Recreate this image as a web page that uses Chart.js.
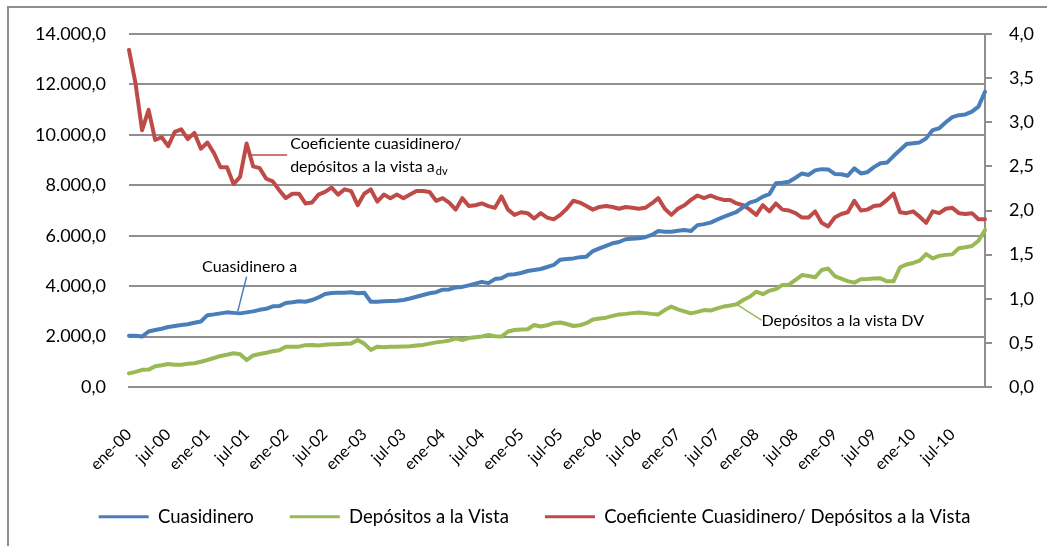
<!DOCTYPE html>
<html>
<head>
<meta charset="utf-8">
<script src="https://cdn.jsdelivr.net/npm/chart.js@4"></script>
<style>
html, body { margin: 0; padding: 0; background: #fff; overflow: hidden; }
#wrap { position: relative; width: 1047px; height: 546px; }
#marco { position: absolute; left: 7px; top: 6px; width: 1100px; height: 600px; border: 2px solid #8f8f8f; box-sizing: border-box; }
canvas { position: absolute; left: 0; top: 0; }
</style>
</head>
<body>
<div id="wrap"><div id="marco"></div><canvas id="grafico" width="1047" height="546"></canvas></div>
<script>
// meses ene-00 ... dic-10
const meses = ['ene', 'feb', 'mar', 'abr', 'may', 'jun', 'jul', 'ago', 'sep', 'oct', 'nov', 'dic'];
const anios = ['00', '01', '02', '03', '04', '05', '06', '07', '08', '09', '10'];
const etiquetas = [];
anios.forEach(a => meses.forEach(m => etiquetas.push(m + '-' + a)));

const cuasidinero = [
    2030, 2030, 2000, 2200, 2260, 2310, 2380, 2420, 2460, 2490, 2550, 2600,
    2850, 2880, 2920, 2960, 2940, 2920, 2960, 3000, 3060, 3100, 3200, 3210,
    3330, 3360, 3400, 3380, 3450, 3550, 3690, 3730, 3740, 3740, 3760, 3720,
    3740, 3380, 3380, 3400, 3410, 3420, 3450, 3510, 3580, 3650, 3720, 3760,
    3860, 3870, 3950, 3970, 4030, 4100, 4170, 4120, 4280, 4310, 4450, 4470,
    4520, 4600, 4640, 4680, 4760, 4840, 5050, 5080, 5100, 5150, 5170, 5390,
    5500, 5600, 5700, 5750, 5860, 5880, 5900, 5940, 6030, 6190, 6160, 6160,
    6200, 6230, 6190, 6420, 6460, 6520, 6640, 6750, 6850, 6950, 7130, 7310,
    7390, 7550, 7650, 8080, 8100, 8140, 8300, 8470, 8410, 8590, 8640, 8630,
    8450, 8440, 8380, 8670, 8470, 8520, 8720, 8870, 8900, 9160, 9400, 9640,
    9670, 9700, 9860, 10190, 10260, 10500, 10700, 10780, 10810, 10920, 11120, 11710
];

const depositos = [
    540, 600, 680, 690, 820, 860, 910, 880, 880, 920, 940, 1000,
    1070, 1150, 1230, 1280, 1340, 1300, 1070, 1250, 1310, 1360, 1420, 1460,
    1600, 1600, 1600, 1660, 1670, 1650, 1680, 1700, 1700, 1720, 1730, 1860,
    1720, 1470, 1600, 1580, 1600, 1600, 1610, 1620, 1650, 1670, 1720, 1770,
    1800, 1840, 1930, 1860, 1940, 1970, 2000, 2060, 2010, 2000, 2200, 2260,
    2280, 2290, 2460, 2400, 2450, 2530, 2560, 2500, 2420, 2450, 2530, 2680,
    2720, 2750, 2820, 2880, 2900, 2930, 2950, 2930, 2900, 2880, 3050, 3190,
    3080, 3000, 2920, 2980, 3050, 3030, 3120, 3190, 3230, 3280, 3450, 3580,
    3780, 3680, 3820, 3880, 4050, 4060, 4250, 4440, 4400, 4350, 4640, 4700,
    4400, 4300, 4200, 4140, 4270, 4280, 4300, 4310, 4190, 4190, 4750, 4860,
    4920, 5010, 5270, 5100, 5200, 5240, 5260, 5500, 5540, 5590, 5800, 6230
];

const coeficiente = [
    3.82, 3.44, 2.91, 3.14, 2.80, 2.83, 2.73, 2.89, 2.92, 2.81, 2.88, 2.70,
    2.77, 2.65, 2.49, 2.49, 2.30, 2.38, 2.76, 2.50, 2.48, 2.36, 2.33, 2.23,
    2.14, 2.19, 2.19, 2.08, 2.09, 2.18, 2.21, 2.26, 2.18, 2.24, 2.22, 2.06,
    2.19, 2.24, 2.10, 2.18, 2.14, 2.18, 2.14, 2.18, 2.22, 2.22, 2.21, 2.11,
    2.14, 2.09, 2.01, 2.14, 2.05, 2.06, 2.08, 2.05, 2.03, 2.16, 2.01, 1.95,
    1.98, 1.97, 1.91, 1.97, 1.92, 1.90, 1.95, 2.02, 2.11, 2.09, 2.05, 2.01,
    2.04, 2.05, 2.04, 2.02, 2.04, 2.03, 2.02, 2.03, 2.08, 2.14, 2.02, 1.95,
    2.02, 2.06, 2.12, 2.17, 2.14, 2.17, 2.14, 2.12, 2.12, 2.08, 2.06, 2.01,
    1.95, 2.06, 1.99, 2.08, 2.01, 2.00, 1.97, 1.92, 1.92, 1.99, 1.86, 1.82,
    1.92, 1.96, 1.98, 2.11, 2.00, 2.01, 2.05, 2.06, 2.12, 2.19, 1.98, 1.97,
    1.99, 1.93, 1.86, 1.99, 1.97, 2.02, 2.03, 1.97, 1.96, 1.97, 1.90, 1.90
];

const marcasIzq = [0, 2000, 4000, 6000, 8000, 10000, 12000, 14000];
const marcasDer = [0, 0.5, 1, 1.5, 2, 2.5, 3, 3.5, 4];

const azul = '#4a7ebb';
const verde = '#98b954';
const rojo = '#be4b48';
const gris = '#8f8f8f';
const fuente = 'Lato';

// 14.000,0 / 3,5
function formato(v) {
    const partes = v.toFixed(1).split('.');
    return partes[0].replace(/\B(?=(\d{3})+(?!\d))/g, '.') + ',' + partes[1];
}

// textos con flecha dentro del grafico
const notas = {
    id: 'notas',
    afterDatasetsDraw(chart) {
        const ctx = chart.ctx;
        const x = chart.scales.x, yIzq = chart.scales.y, yDer = chart.scales.y1;
        const pAzul = chart.getDatasetMeta(0).data;
        const pVerde = chart.getDatasetMeta(1).data;
        const pRojo = chart.getDatasetMeta(2).data;
        ctx.save();
        ctx.lineWidth = 1.5;
        ctx.textBaseline = 'middle';
        ctx.fillStyle = '#000';

        // coeficiente
        let ax = (pRojo[18].x + pRojo[19].x) / 2, ay = (pRojo[18].y + pRojo[19].y) / 2;
        let tx = x.getPixelForValue(24.2), ty = yDer.getPixelForValue(2.63);
        ctx.strokeStyle = rojo;
        ctx.beginPath(); ctx.moveTo(ax, ay); ctx.lineTo(tx, ty); ctx.stroke();
        ctx.font = '16px ' + fuente;
        ctx.fillText('Coeficiente cuasidinero/', tx + 3, ty - 11);
        const linea2 = 'depósitos a la vista a';
        ctx.fillText(linea2, tx + 3, ty + 12);
        const w = ctx.measureText(linea2).width;
        ctx.font = '11px ' + fuente;
        ctx.fillText('dv', tx + 4 + w, ty + 17);

        // cuasidinero
        ax = (pAzul[16].x + pAzul[17].x) / 2; ay = (pAzul[16].y + pAzul[17].y) / 2;
        tx = x.getPixelForValue(18); ty = yIzq.getPixelForValue(4380);
        ctx.strokeStyle = azul;
        ctx.beginPath(); ctx.moveTo(ax + 1, ay - 2); ctx.lineTo(tx, ty); ctx.stroke();
        ctx.font = '16px ' + fuente;
        ctx.textAlign = 'center';
        ctx.fillText('Cuasidinero a', tx + 3, ty - 10);

        // depositos
        ax = pVerde[93].x; ay = pVerde[93].y;
        tx = x.getPixelForValue(96.8); ty = yIzq.getPixelForValue(2650);
        ctx.strokeStyle = verde;
        ctx.beginPath(); ctx.moveTo(ax, ay); ctx.lineTo(tx, ty); ctx.stroke();
        ctx.textAlign = 'left';
        ctx.fillText('Depósitos a la vista DV', tx, ty + 1);
        ctx.restore();
    }
};

const ctx = document.getElementById('grafico').getContext('2d');
const grafico = new Chart(ctx, {
    type: 'line',
    data: {
        labels: etiquetas,
        datasets: [{
            label: 'Cuasidinero',
            data: cuasidinero,
            borderColor: azul,
            backgroundColor: azul,
            yAxisID: 'y'
        }, {
            label: 'Depósitos a la Vista',
            data: depositos,
            borderColor: verde,
            backgroundColor: verde,
            yAxisID: 'y'
        }, {
            label: 'Coeficiente Cuasidinero/ Depósitos a la Vista',
            data: coeficiente,
            borderColor: rojo,
            backgroundColor: rojo,
            yAxisID: 'y1'
        }]
    },
    options: {
        responsive: false,
        animation: false,
        layout: { padding: { left: 22, right: 0, top: 34, bottom: 10 } },
        elements: {
            line: { borderWidth: 4, tension: 0, borderJoinStyle: 'round', borderCapStyle: 'round' },
            point: { radius: 0, hoverRadius: 0 }
        },
        plugins: {
            tooltip: { enabled: false },
            legend: {
                position: 'bottom',
                labels: {
                    color: '#000',
                    font: { family: fuente, size: 18.5 },
                    boxWidth: 50,
                    boxHeight: 3,
                    padding: 36,
                    generateLabels(chart) {
                        return Chart.defaults.plugins.legend.labels.generateLabels(chart).map(l => {
                            l.fillStyle = l.strokeStyle;
                            l.lineWidth = 0;
                            return l;
                        });
                    }
                }
            }
        },
        scales: {
            x: {
                offset: false,
                grid: { display: false },
                border: { display: true, color: gris, width: 2 },
                ticks: {
                    autoSkip: false,
                    minRotation: 45,
                    maxRotation: 45,
                    padding: 30,
                    color: '#000',
                    font: { family: fuente, size: 16 },
                    callback: function(v, i) { return i % 6 === 0 ? etiquetas[i] : ''; }
                },
                afterFit(scale) { scale.height = 84.5; }
            },
            y: {
                position: 'left',
                min: 0,
                max: 14000,
                afterBuildTicks(scale) { scale.ticks = marcasIzq.map(v => ({ value: v })); },
                grid: { color: gris, lineWidth: 2, drawTicks: false },
                border: { display: false },
                ticks: {
                    padding: 23,
                    color: '#000',
                    font: { family: fuente, size: 18 },
                    callback: v => formato(v)
                },
                afterFit(scale) { scale.width = 107; }
            },
            y1: {
                position: 'right',
                min: 0,
                max: 4,
                afterBuildTicks(scale) { scale.ticks = marcasDer.map(v => ({ value: v })); },
                grid: { drawOnChartArea: false, color: gris, lineWidth: 2, tickLength: 7 },
                border: { display: true, color: gris, width: 2 },
                ticks: {
                    padding: 17,
                    color: '#000',
                    font: { family: fuente, size: 18 },
                    callback: v => formato(v)
                },
                afterFit(scale) { scale.width = 62; }
            }
        }
    },
    plugins: [notas]
});
</script>
</body>
</html>
